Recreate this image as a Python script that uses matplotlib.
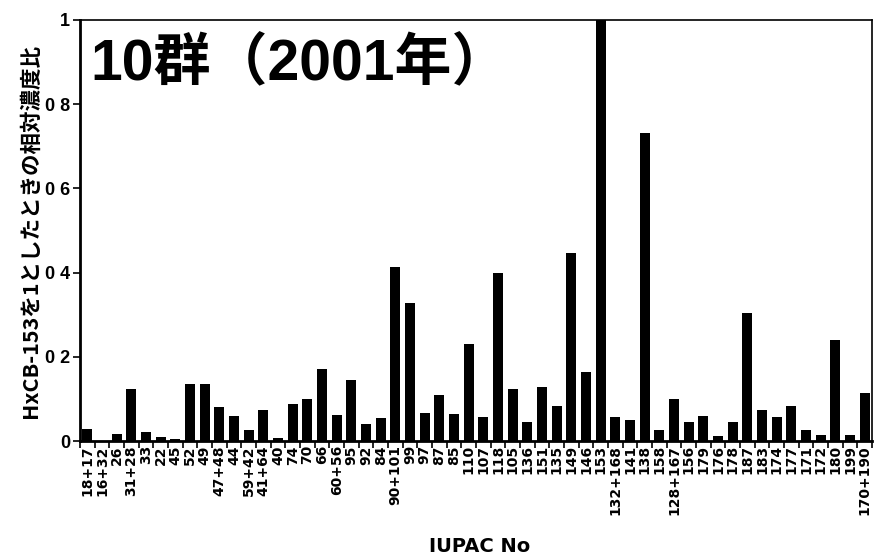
import matplotlib
matplotlib.use("Agg")
import matplotlib.pyplot as plt
import numpy as np

# IUPAC congener numbers (co-eluting pairs joined with "+")
congeners = [
    "18+17", "16+32", "26", "31+28", "33", "22", "45", "52", "49", "47+48",
    "44", "59+42", "41+64", "40", "74", "70", "66", "60+56", "95", "92",
    "84", "90+101", "99", "97", "87", "85", "110", "107", "118", "105",
    "136", "151", "135", "149", "146", "153", "132+168", "141", "138", "158",
    "128+167", "156", "179", "176", "178", "187", "183", "174", "177", "171",
    "172", "180", "199", "170+190",
]

# Concentration relative to HxCB-153 (= 1)
ratios = [
    0.029, 0.0, 0.017, 0.124, 0.021, 0.010, 0.004, 0.136, 0.135, 0.080,
    0.060, 0.025, 0.074, 0.008, 0.087, 0.100, 0.170, 0.061, 0.144, 0.040,
    0.054, 0.414, 0.327, 0.066, 0.110, 0.063, 0.231, 0.056, 0.400, 0.124,
    0.046, 0.129, 0.084, 0.447, 0.164, 1.000, 0.056, 0.050, 0.732, 0.027,
    0.100, 0.044, 0.059, 0.013, 0.046, 0.304, 0.074, 0.056, 0.084, 0.027,
    0.015, 0.240, 0.015, 0.114,
]

yticks = [0, 0.2, 0.4, 0.6, 0.8, 1.0]
ytick_labels = ["0", "0 2", "0 4", "0 6", "0 8", "1"]

title_text = "10群（2001年）"
ylabel_text = "HxCB-153を1としたときの相対濃度比"
xlabel_text = "IUPAC No"

jp_font = ["Noto Sans CJK JP", "DejaVu Sans"]
title_font = ["Liberation Sans", "Noto Sans CJK JP"]

fig = plt.figure(figsize=(8.74, 5.56), dpi=100)
ax = fig.add_axes([80 / 874, 115 / 556, 792 / 874, 421 / 556])

x = np.arange(len(congeners))
ax.bar(x, ratios, width=0.66, color="black", linewidth=0)

ax.set_xlim(-0.5, len(congeners) - 0.5)
ax.set_ylim(0, 1.0)

# boundary ticks between categories, labels centred under bars
ax.set_xticks(np.arange(len(congeners) + 1) - 0.5)
ax.set_xticklabels([])
ax.set_xticks(x, minor=True)
ax.set_xticklabels(congeners, minor=True, rotation=90,
                   fontfamily="DejaVu Sans", fontweight="bold", fontsize=10)
ax.tick_params(axis="x", which="major", direction="out", length=5, width=1.2)
ax.tick_params(axis="x", which="minor", length=0, pad=3)

ax.set_yticks(yticks)
ax.set_yticklabels(ytick_labels, fontfamily="Liberation Sans",
                   fontweight="bold", fontsize=13)
ax.tick_params(axis="y", direction="out", length=5, width=1.2, pad=2)

for side in ["left", "bottom"]:
    ax.spines[side].set_linewidth(2.0)
for side in ["top", "right"]:
    ax.spines[side].set_linewidth(1.2)

ax.text(0.013, 0.857, title_text, transform=ax.transAxes, ha="left",
        va="baseline", fontfamily=title_font, fontweight="bold", fontsize=41)

ax.set_ylabel(ylabel_text, fontfamily=jp_font, fontweight="bold",
              fontsize=15.5, labelpad=3)
fig.text(480 / 874, 1 - 547 / 556, xlabel_text, ha="center", va="center",
         fontfamily="DejaVu Sans", fontweight="bold", fontsize=14)

fig.savefig("out.png", dpi=100, facecolor="white")
